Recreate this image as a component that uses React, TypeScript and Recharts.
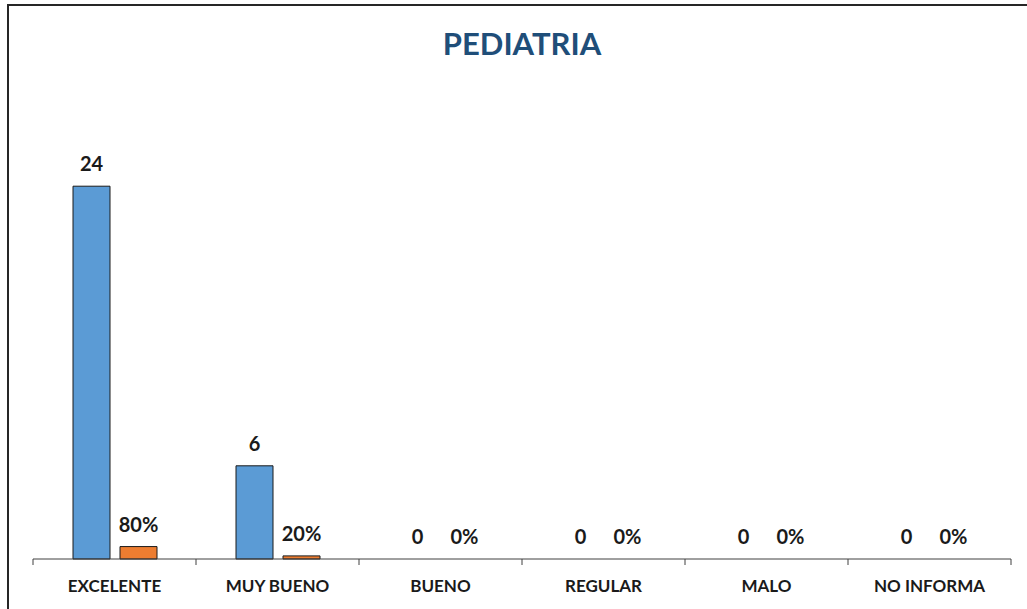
import { BarChart, Bar, XAxis, YAxis, LabelList, Cell } from "recharts";

const categories = ["EXCELENTE", "MUY BUENO", "BUENO", "REGULAR", "MALO", "NO INFORMA"];
const counts = [24, 6, 0, 0, 0, 0];
const shares = [0.8, 0.2, 0, 0, 0, 0];

const data = categories.map((name, i) => ({ name, count: counts[i], share: shares[i] }));

const FONT = "Lato, 'Open Sans', sans-serif";
const labelStyle = { fill: "#1a1a1a", fontFamily: FONT, fontWeight: 700, fontSize: 20 };
const W = 1027;
const H = 609;
const margin = { top: 93, right: 16, left: 33, bottom: 0 };
const halfBand = (W - margin.left - margin.right) / categories.length / 2;

// zero bars get a hair of height so their labels still show, but draw nothing
const tiny = (v: any) => (Number(v) === 0 ? 0.001 : 0);

// category label plus Excel-style tick marks on the category boundaries
function CatTick(props: any) {
  const { x, y, payload, index } = props;
  const last = index === categories.length - 1;
  return (
    <g>
      <line x1={x - halfBand} y1={y} x2={x - halfBand} y2={y + 6} stroke="#404040" />
      {last && <line x1={x + halfBand} y1={y} x2={x + halfBand} y2={y + 6} stroke="#404040" />}
      <text x={x} y={y + 33} textAnchor="middle" fill="#1a1a1a" fontFamily={FONT} fontWeight={700} fontSize={17}>
        {payload.value}
      </text>
    </g>
  );
}

export default function App() {
  return (
    <div style={{ position: "fixed", left: 0, top: 0, width: W, height: H, overflow: "hidden", background: "#fff" }}>
      <div style={{ position: "absolute", left: 7, top: 4, width: 1040, height: 640, border: "2px solid #262626" }} />
      <div
        style={{
          position: "absolute", left: 422, top: 28, width: 200, textAlign: "center",
          fontFamily: FONT, fontWeight: 700, fontSize: 31, lineHeight: 1, color: "#1F4E79",
        }}
      >
        PEDIATRIA
      </div>
      <div style={{ position: "absolute", left: 0, top: 0 }}>
        <BarChart width={W} height={H} data={data} margin={margin} barCategoryGap={40} barGap={10}>
          <XAxis
            dataKey="name"
            height={50}
            axisLine={{ stroke: "#404040" }}
            tickLine={false}
            tickSize={0}
            tickMargin={0}
            interval={0}
            tick={<CatTick />}
          />
          <YAxis hide domain={[0, 30]} />
          <Bar dataKey="count" fill="#5B9BD5" stroke="#1a1a1a" strokeWidth={1} minPointSize={tiny} isAnimationActive={false}>
            {counts.map((v, i) => (
              <Cell key={i} fill={v === 0 ? "none" : "#5B9BD5"} stroke={v === 0 ? "none" : "#1a1a1a"} />
            ))}
            <LabelList dataKey="count" position="top" offset={15} style={labelStyle} />
          </Bar>
          <Bar dataKey="share" fill="#ED7D31" stroke="#1a1a1a" strokeWidth={1} minPointSize={tiny} isAnimationActive={false}>
            {shares.map((v, i) => (
              <Cell key={i} fill={v === 0 ? "none" : "#ED7D31"} stroke={v === 0 ? "none" : "#1a1a1a"} />
            ))}
            <LabelList
              dataKey="share"
              position="top"
              offset={15}
              formatter={(v: any) => `${Math.round(Number(v) * 100)}%`}
              style={labelStyle}
            />
          </Bar>
        </BarChart>
      </div>
    </div>
  );
}
